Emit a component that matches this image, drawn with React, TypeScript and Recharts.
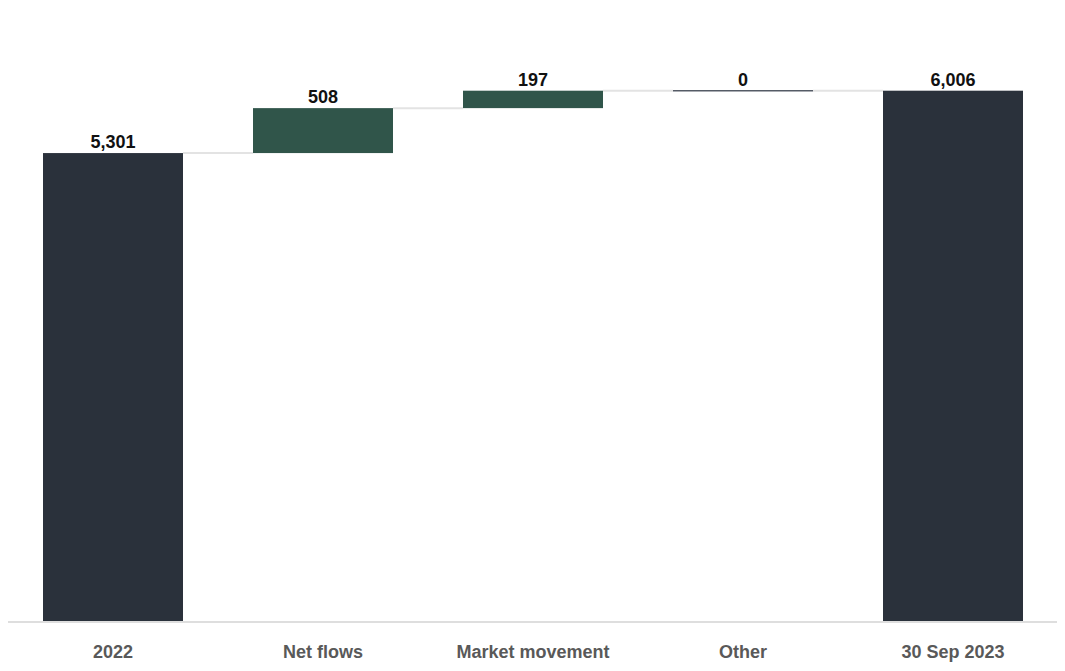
import React from 'react';
import { BarChart, Bar, XAxis, YAxis, LabelList } from 'recharts';

// Assets under management bridge, 2022 to 30 Sep 2023
const categories = ['2022', 'Net flows', 'Market movement', 'Other', '30 Sep 2023'];
const values = [5301, 508, 197, 0, 6006];
const kinds = ['total', 'delta', 'delta', 'delta', 'total'];

const TOTAL_COLOR = '#2a313b';
const DELTA_COLOR = '#30554a';
const ZERO_COLOR = '#555b66';
const CONNECTOR_COLOR = '#e3e3e3';
const FONT = '"Liberation Sans", Arial, sans-serif';

// Bars take 2/3 of each band, so the gap between neighbours is half a bar width
const GAP_RATIO = 0.5;

type Row = { name: string; value: number; range: [number, number]; kind: string };

const rows: Row[] = (() => {
  let running = 0;
  return categories.map((name, i) => {
    const v = values[i];
    let range: [number, number];
    if (kinds[i] === 'total') {
      range = [0, v];
      running = v;
    } else {
      range = [running, running + v];
      running += v;
    }
    return { name, value: v, range, kind: kinds[i] };
  });
})();

const WaterfallShape = (props: any) => {
  const { x, y, width, height, index, payload } = props;
  const last = index === rows.length - 1;
  const top = Math.min(y, y + height);
  const h = Math.abs(height);
  const fill = payload.kind === 'total' ? TOTAL_COLOR : DELTA_COLOR;
  return (
    <g>
      {h < 1 ? (
        <line x1={x} x2={x + width} y1={top} y2={top} stroke={ZERO_COLOR} strokeWidth={1.5} />
      ) : (
        <rect x={x} y={top} width={width} height={h} fill={fill} />
      )}
      {!last && (
        <line
          x1={x + width}
          x2={x + width + width * GAP_RATIO}
          y1={top}
          y2={top}
          stroke={CONNECTOR_COLOR}
          strokeWidth={2}
        />
      )}
    </g>
  );
};

const ValueLabel = (props: any) => {
  const { x, y, width, height, value } = props;
  const top = Math.min(y, y + height);
  return (
    <text
      x={x + width / 2}
      y={top - 5}
      textAnchor="middle"
      fontFamily={FONT}
      fontWeight="bold"
      fontSize={18}
      fill="#111"
    >
      {Number(value).toLocaleString('en-US')}
    </text>
  );
};

const CategoryTick = (props: any) => {
  const { x, y, payload } = props;
  return (
    <text
      x={x}
      y={y + 36}
      textAnchor="middle"
      fontFamily={FONT}
      fontWeight="bold"
      fontSize={18}
      fill="#595959"
    >
      {payload.value}
    </text>
  );
};

export default function App() {
  return (
    <BarChart
      width={1050}
      height={660}
      data={rows}
      margin={{ top: 39, right: 0, left: 0, bottom: 0 }}
      barCategoryGap="16.667%"
    >
      <XAxis
        dataKey="name"
        height={46}
        tickLine={false}
        tickSize={0}
        tickMargin={0}
        axisLine={{ stroke: '#dedede', strokeWidth: 2 }}
        tick={<CategoryTick />}
        interval={0}
      />
      <YAxis hide domain={[0, 6500]} />
      <Bar dataKey="range" isAnimationActive={false} shape={<WaterfallShape />}>
        <LabelList dataKey="value" content={<ValueLabel />} />
      </Bar>
    </BarChart>
  );
}
